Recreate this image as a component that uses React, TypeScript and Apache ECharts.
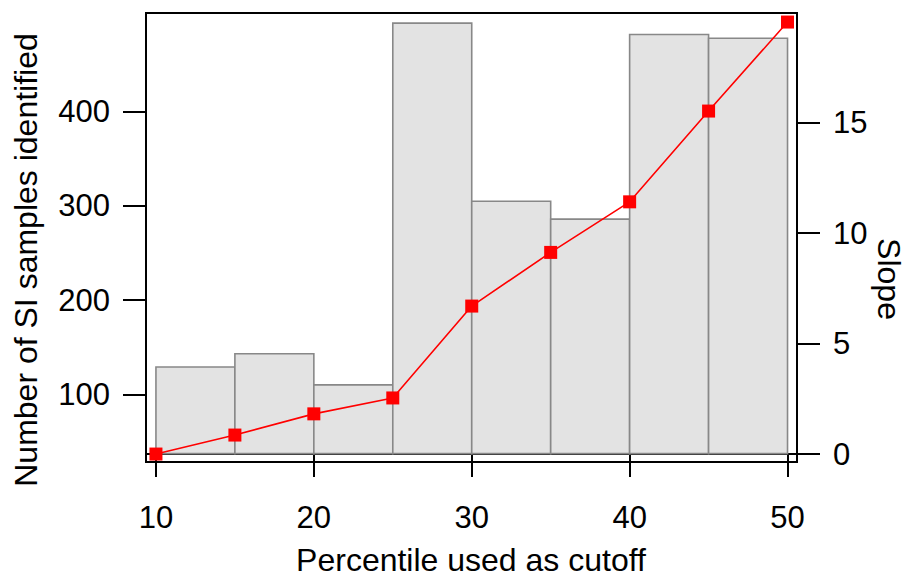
import React, { useEffect, useRef } from "react";
import * as echarts from "echarts";

// Percentile bins (start, end) and number of SI samples identified in each
const binStart = [10, 15, 20, 25, 30, 35, 40, 45];
const binEnd = [15, 20, 25, 30, 35, 40, 45, 50];
const sampleCounts = [129, 143, 110, 494, 305, 286, 482, 478];
const barBase = 37;

// Slope at each percentile cutoff
const cutoffs = [10, 15, 20, 25, 30, 35, 40, 45, 50];
const slopes = [0, 0.86, 1.82, 2.54, 6.7, 9.13, 11.42, 15.53, 19.56];

const xTicks = [10, 20, 30, 40, 50];
const leftTicks = [100, 200, 300, 400];
const rightTicks = [0, 5, 10, 15];

const FONT = "'Liberation Sans', Arial, Helvetica, sans-serif";

export default function App() {
  const ref = useRef<HTMLDivElement>(null);

  useEffect(() => {
    if (!ref.current) return;
    const chart = echarts.init(ref.current, null, { renderer: "svg" });

    const barData = binStart.map((s, i) => [s, binEnd[i], sampleCounts[i]]);
    const lineData = cutoffs.map((c, i) => [c, slopes[i]]);

    const tickLabel = { fontSize: 31, color: "#000", fontFamily: FONT };
    const axisLine = { show: true, lineStyle: { color: "#000", width: 2 } };
    const axisTick = { show: true, inside: false, length: 23, lineStyle: { color: "#000", width: 2 } };

    const titleStyle = {
      font: `32px ${FONT}`,
      fill: "#000",
      align: "center",
      verticalAlign: "middle",
      lineHeight: 24,
    };

    chart.setOption({
      animation: false,
      backgroundColor: "#fff",
      grid: {
        left: 146,
        right: 110,
        top: 13,
        bottom: 114,
        show: true,
        borderColor: "#000",
        borderWidth: 2,
        backgroundColor: "transparent",
      },
      xAxis: {
        type: "value",
        min: 9.37,
        max: 50.6,
        axisLine,
        axisTick: { ...axisTick, customValues: xTicks },
        axisLabel: { ...tickLabel, margin: 40, customValues: xTicks },
        splitLine: { show: false },
      },
      yAxis: [
        {
          type: "value",
          position: "left",
          min: 28.1,
          max: 504.8,
          axisLine,
          axisTick: { ...axisTick, customValues: leftTicks },
          axisLabel: { ...tickLabel, margin: 36, customValues: leftTicks },
          splitLine: { show: false },
        },
        {
          type: "value",
          position: "right",
          min: -0.36,
          max: 19.97,
          axisLine,
          axisTick: { ...axisTick, customValues: rightTicks },
          axisLabel: { ...tickLabel, margin: 36, customValues: rightTicks },
          splitLine: { show: false },
        },
      ],
      series: [
        {
          type: "custom",
          xAxisIndex: 0,
          yAxisIndex: 0,
          data: barData,
          encode: { x: [0, 1], y: 2 },
          renderItem: (_params: any, api: any) => {
            const p0 = api.coord([api.value(0), api.value(2)]);
            const p1 = api.coord([api.value(1), barBase]);
            return {
              type: "rect",
              shape: { x: p0[0], y: p0[1], width: p1[0] - p0[0], height: p1[1] - p0[1] },
              style: { fill: "#e3e3e3", stroke: "#888888", lineWidth: 1.6 },
            };
          },
          z: 1,
        },
        {
          type: "line",
          xAxisIndex: 0,
          yAxisIndex: 1,
          data: lineData,
          symbol: "rect",
          symbolSize: 13,
          itemStyle: { color: "#ff0000" },
          lineStyle: { color: "#ff0000", width: 1.6 },
          z: 3,
        },
      ],
      graphic: [
        {
          type: "text",
          x: 25.5,
          y: 260,
          rotation: Math.PI / 2,
          style: { ...titleStyle, text: "Number of SI samples identified" },
        },
        {
          type: "text",
          x: 889,
          y: 279,
          rotation: -Math.PI / 2,
          style: { ...titleStyle, text: "Slope" },
        },
        {
          type: "text",
          x: 471,
          y: 559.5,
          style: { ...titleStyle, text: "Percentile used as cutoff" },
        },
      ],
    });

    return () => chart.dispose();
  }, []);

  return (
    <div
      ref={ref}
      style={{ position: "absolute", left: 0, top: 0, width: 907, height: 576 }}
    />
  );
}
